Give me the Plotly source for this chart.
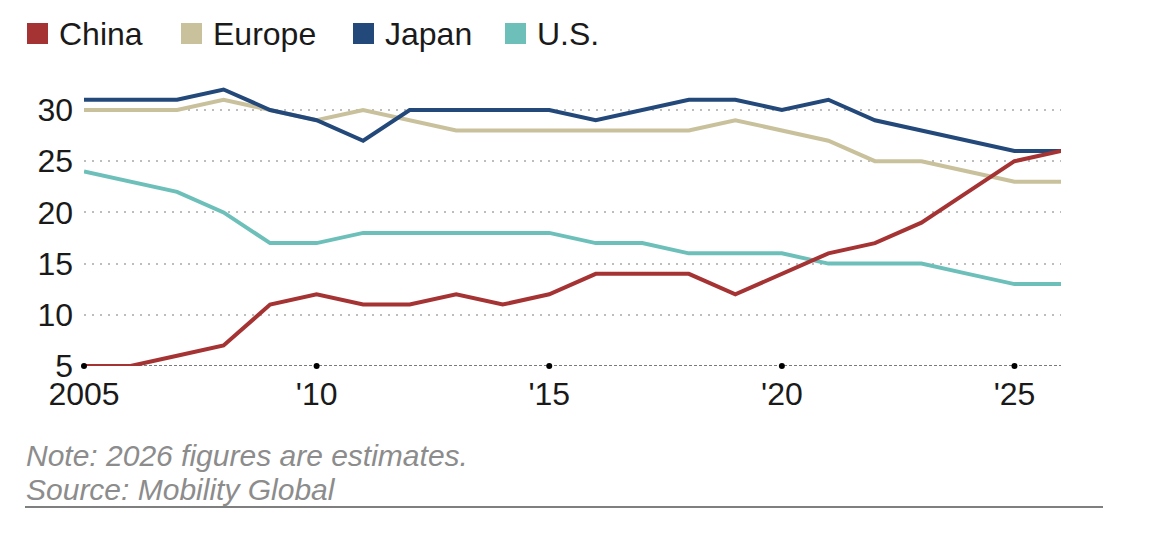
import plotly.graph_objects as go

years = list(range(2005, 2027))
china = [5, 5, 6, 7, 11, 12, 11, 11, 12, 11, 12, 14, 14, 14, 12, 14, 16, 17, 19, 22, 25, 26]
europe = [30, 30, 30, 31, 30, 29, 30, 29, 28, 28, 28, 28, 28, 28, 29, 28, 27, 25, 25, 24, 23, 23]
japan = [31, 31, 31, 32, 30, 29, 27, 30, 30, 30, 30, 29, 30, 31, 31, 30, 31, 29, 28, 27, 26, 26]
us = [24, 23, 22, 20, 17, 17, 18, 18, 18, 18, 18, 17, 17, 16, 16, 16, 15, 15, 15, 14, 13, 13]

series_names = ["China", "Europe", "Japan", "U.S."]
x_tickvals = [2005, 2010, 2015, 2020, 2025]
x_ticktext = ["2005", "'10", "'15", "'20", "'25"]
y_tickvals = [5, 10, 15, 20, 25, 30]
note_text = "Note: 2026 figures are estimates."
source_text = "Source: Mobility Global"

colors = {"China": "#A53333", "Europe": "#C9C19C", "Japan": "#23487A", "U.S.": "#6DC0BA"}
data = {"China": china, "Europe": europe, "Japan": japan, "U.S.": us}

W, H = 1156, 540
L, R, T, B = 84, 95, 86, 174
PW, PH = W - L - R, H - T - B
FONT = "Liberation Sans, Arial, sans-serif"


def px2paper_x(px):
    return (px - L) / PW


def px2paper_y(py):
    return (H - B - py) / PH


fig = go.Figure()
for name in ["Europe", "U.S.", "Japan", "China"]:
    fig.add_trace(go.Scatter(x=years, y=data[name], mode="lines", name=name,
                             line=dict(color=colors[name], width=4),
                             showlegend=False, hoverinfo="x+y+name"))

# baseline dots at tick years
fig.add_trace(go.Scatter(x=x_tickvals, y=[y_tickvals[0]] * len(x_tickvals), mode="markers",
                         marker=dict(color="#000000", size=6), showlegend=False,
                         hoverinfo="skip", cliponaxis=False))

shapes = [
    dict(type="line", xref="paper", yref="y", x0=0, x1=1, y0=y_tickvals[0], y1=y_tickvals[0],
         line=dict(color="#7a7a7a", width=2, dash="3px,2px"), layer="below"),
    dict(type="line", xref="paper", yref="paper", x0=px2paper_x(25), x1=px2paper_x(1103),
         y0=px2paper_y(507), y1=px2paper_y(507), line=dict(color="#555555", width=1.5)),
]

annotations = []
legend_sq_x = [27, 181, 353, 505]
for name, sx in zip(series_names, legend_sq_x):
    shapes.append(dict(type="rect", xref="paper", yref="paper",
                       x0=px2paper_x(sx), x1=px2paper_x(sx + 21),
                       y0=px2paper_y(44), y1=px2paper_y(23),
                       fillcolor=colors[name], line=dict(width=0)))
    annotations.append(dict(text=name, xref="paper", yref="paper", x=px2paper_x(sx + 30),
                            y=px2paper_y(34), xanchor="left", yanchor="middle", showarrow=False,
                            font=dict(family=FONT, size=32, color="#1a1a1a")))

annotations.append(dict(text=note_text, xref="paper", yref="paper", x=px2paper_x(24),
                        y=px2paper_y(455), xanchor="left", yanchor="middle", showarrow=False,
                        font=dict(family=FONT, size=30, color="#8c8c8c", style="italic")))
annotations.append(dict(text=source_text, xref="paper", yref="paper", x=px2paper_x(24),
                        y=px2paper_y(489), xanchor="left", yanchor="middle", showarrow=False,
                        font=dict(family=FONT, size=30, color="#8c8c8c", style="italic")))

fig.update_layout(
    width=W, height=H,
    margin=dict(l=L, r=R, t=T, b=B, pad=0),
    paper_bgcolor="white", plot_bgcolor="white",
    font=dict(family=FONT, size=32, color="#1a1a1a"),
    shapes=shapes, annotations=annotations, showlegend=False,
    xaxis=dict(range=[2005, 2026], tickvals=x_tickvals, ticktext=x_ticktext,
               showgrid=False, zeroline=False, showline=False, ticks="",
               ticklabelstandoff=6, tickfont=dict(size=32, color="#1a1a1a")),
    yaxis=dict(range=[5, 5 + PH / 10.24], tickvals=y_tickvals, showgrid=True,
               gridcolor="#bdbdbd", griddash="2px,6px", gridwidth=2, zeroline=False,
               showline=False, ticks="", ticklabelstandoff=10,
               tickfont=dict(size=32, color="#1a1a1a")),
)

fig.write_html("out.html")
